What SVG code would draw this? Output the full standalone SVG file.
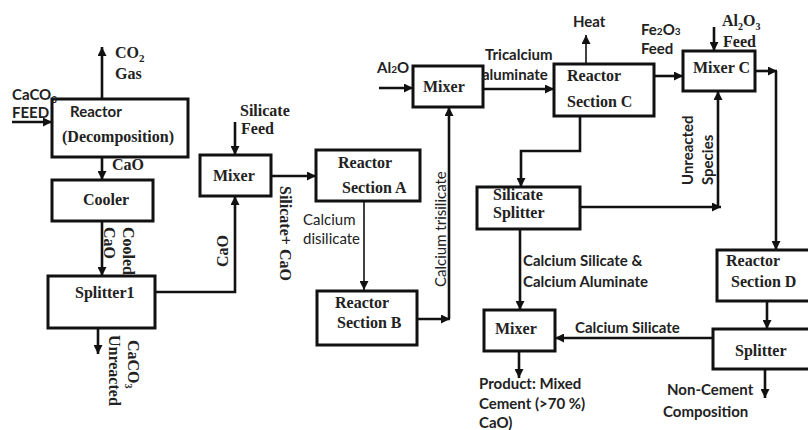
<svg xmlns="http://www.w3.org/2000/svg" width="808" height="430" viewBox="0 0 808 430">
<style>
.box{fill:#fff;stroke:#111;stroke-width:3}
.c{fill:none;stroke:#111;stroke-width:2.6}
.t{fill:none;stroke:#111;stroke-width:1.6}
.s{font-family:"Liberation Serif","Times New Roman",serif;font-weight:bold;font-size:16px;fill:#222}
.a{font-family:Lato,"Liberation Sans",sans-serif;font-weight:bold;font-size:15px;fill:#222}
.n{font-family:Lato,"Liberation Sans",sans-serif;font-weight:normal;font-size:15px;fill:#222}
</style>
<defs>
<marker id="ah" viewBox="0 0 10 10" refX="10" refY="5" markerWidth="9" markerHeight="9" markerUnits="userSpaceOnUse" orient="auto"><path d="M0,0 L10,5 L0,10 z" fill="#111"/></marker>
</defs>
<rect width="808" height="430" fill="#fff"/>

<g id="connectors">
<path class="c" d="M12,122 H52" marker-end="url(#ah)"/>
<path class="c" d="M102,99 V47" marker-end="url(#ah)"/>
<path class="c" d="M102,157 V180" marker-end="url(#ah)"/>
<path class="c" d="M102,221 V276" marker-end="url(#ah)"/>
<path class="c" d="M98,328 V354" marker-end="url(#ah)"/>
<path class="c" d="M155,292 H235 V196" marker-end="url(#ah)"/>
<path class="c" d="M235,122 V155" marker-end="url(#ah)"/>
<path class="c" d="M271,176 H316" marker-end="url(#ah)"/>
<path class="t" d="M364,201 V290" marker-end="url(#ah)"/>
<path class="c" d="M417,319 H450" marker-end="url(#ah)"/>
<path class="c" d="M449,319 V107" marker-end="url(#ah)"/>
<path class="c" d="M379,88 H413" marker-end="url(#ah)"/>
<path class="c" d="M483,89 H554" marker-end="url(#ah)"/>
<path class="t" d="M586,64 V35" marker-end="url(#ah)"/>
<path class="c" d="M654,76 H683" marker-end="url(#ah)"/>
<path class="c" d="M714,27 V51" marker-end="url(#ah)"/>
<path class="c" d="M755,71 H777" marker-end="url(#ah)"/>
<path class="c" d="M776,71 V250" marker-end="url(#ah)"/>
<path class="c" d="M580,116 V151 H521 V187" marker-end="url(#ah)"/>
<path class="c" d="M580,207 H721" marker-end="url(#ah)"/>
<path class="c" d="M718,207 V91" marker-end="url(#ah)"/>
<path class="c" d="M520,229 V310" marker-end="url(#ah)"/>
<path class="c" d="M519,351 V378" marker-end="url(#ah)"/>
<path class="c" d="M767,301 V329" marker-end="url(#ah)"/>
<path class="c" d="M712,338 H555" marker-end="url(#ah)"/>
<path class="c" d="M765,369 V398" marker-end="url(#ah)"/>
</g>

<g id="reactor-decomp">
<rect class="box" x="52" y="99" width="136" height="58"/>
<text class="a" x="70" y="117" font-size="16">Reactor</text>
<text class="s" x="62" y="142">(Decomposition)</text>
</g>
<g id="cooler">
<rect class="box" x="52" y="180" width="101" height="41"/>
<text class="s" x="83" y="205">Cooler</text>
</g>
<g id="splitter1">
<rect class="box" x="48" y="276" width="107" height="52"/>
<text class="s" x="75" y="298">Splitter1</text>
</g>
<g id="mixer1">
<rect class="box" x="200" y="155" width="71" height="41"/>
<text class="s" x="213" y="181">Mixer</text>
</g>
<g id="reactor-a">
<rect class="box" x="316" y="150" width="104" height="51"/>
<text class="s" x="338" y="168">Reactor</text>
<text class="s" x="342" y="193">Section A</text>
</g>
<g id="reactor-b">
<rect class="box" x="317" y="291" width="100" height="54"/>
<text class="s" x="335" y="308">Reactor</text>
<text class="s" x="337" y="328">Section B</text>
</g>
<g id="mixer2">
<rect class="box" x="413" y="66" width="70" height="41"/>
<text class="s" x="423" y="92">Mixer</text>
</g>
<g id="reactor-c">
<rect class="box" x="554" y="64" width="100" height="52"/>
<text class="s" x="567" y="81">Reactor</text>
<text class="s" x="567" y="107">Section C</text>
</g>
<g id="mixer-c">
<rect class="box" x="683" y="51" width="72" height="40"/>
<text class="s" x="693" y="73">Mixer C</text>
</g>
<g id="silicate-splitter">
<rect class="box" x="477" y="187" width="103" height="42"/>
<text class="s" x="493" y="200">Silicate</text>
<text class="s" x="493" y="218">Splitter</text>
</g>
<g id="mixer3">
<rect class="box" x="484" y="310" width="71" height="41"/>
<text class="s" x="495" y="334">Mixer</text>
</g>
<g id="reactor-d">
<rect class="box" x="717" y="250" width="100" height="51"/>
<text class="s" x="726" y="266">Reactor</text>
<text class="s" x="731" y="287">Section D</text>
</g>
<g id="splitter">
<rect class="box" x="713" y="329" width="100" height="40"/>
<text class="s" x="735" y="356">Splitter</text>
</g>

<g id="labels">
<text class="s" x="115" y="58">CO<tspan font-size="11" dy="4">2</tspan></text>
<text class="s" x="115" y="79">Gas</text>
<text class="a" x="12" y="100">CaCO<tspan font-size="10" dy="3">3</tspan></text>
<text class="a" x="12" y="118">FEED</text>
<text class="s" x="112" y="170">CaO</text>
<text class="s" transform="translate(104,227) rotate(90)">CaO</text>
<text class="s" transform="translate(123,227) rotate(90)">Cooled</text>
<text class="s" transform="translate(109,335) rotate(90)">Unreacted</text>
<text class="s" transform="translate(128,340) rotate(90)">CaCO<tspan font-size="10" dy="3">3</tspan></text>
<text class="s" transform="translate(228,267) rotate(-90)">CaO</text>
<text class="s" x="240" y="116">Silicate</text>
<text class="s" x="241" y="134">Feed</text>
<text class="s" transform="translate(280,186) rotate(90)">Silicate+ CaO</text>
<text class="n" x="303" y="225">Calcium</text>
<text class="n" x="303" y="244">disilicate</text>
<text class="n" transform="translate(446,287) rotate(-90)">Calcium trisilicate</text>
<text class="a" x="377" y="73">Al<tspan font-size="10" dy="0">2</tspan>O</text>
<text class="a" x="485" y="60">Tricalcium</text>
<text class="a" x="482" y="80">aluminate</text>
<text class="a" x="573" y="27">Heat</text>
<text class="a" x="641" y="35">Fe<tspan font-size="10">2</tspan>O<tspan font-size="10">3</tspan></text>
<text class="a" x="641" y="54">Feed</text>
<text class="s" x="722" y="26">Al<tspan font-size="10" dy="4">2</tspan><tspan dy="-4">O</tspan><tspan font-size="10" dy="4">3</tspan></text>
<text class="s" x="723" y="47">Feed</text>
<text class="a" transform="translate(693,185) rotate(-90)">Unreacted</text>
<text class="a" transform="translate(713,185) rotate(-90)">Species</text>
<text class="a" x="523" y="266">Calcium Silicate &amp;</text>
<text class="a" x="523" y="287">Calcium Aluminate</text>
<text class="a" x="575" y="333">Calcium Silicate</text>
<text class="a" x="479" y="389">Product: Mixed</text>
<text class="a" x="479" y="409">Cement (&gt;70 %)</text>
<text class="a" x="479" y="428">CaO)</text>
<text class="a" x="667" y="395">Non-Cement</text>
<text class="a" x="663" y="417">Composition</text>
</g>
</svg>
